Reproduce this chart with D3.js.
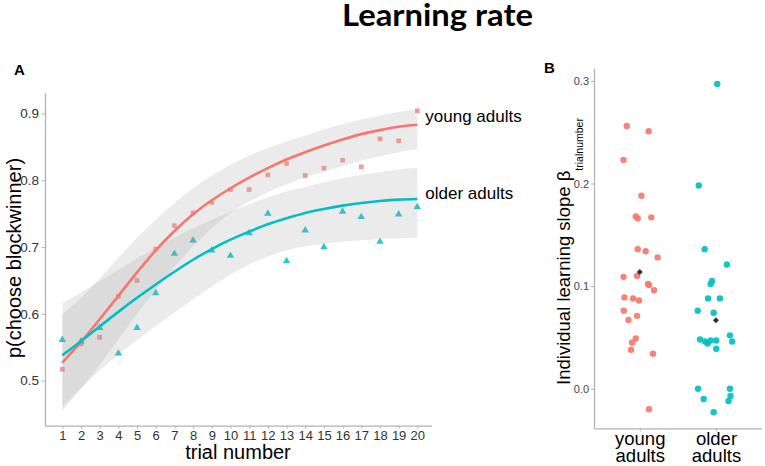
<!DOCTYPE html>
<html>
<head>
<meta charset="utf-8">
<script src="https://cdn.jsdelivr.net/npm/d3@7/dist/d3.min.js"></script>
<style>
  body { margin: 0; background: #fff; }
  text { font-family: "Liberation Sans", Arial, sans-serif; }
</style>
</head>
<body>
<svg id="chart" width="765" height="466"></svg>
<script>
// ---- panel A data ----
const trials = [1, 2, 3, 4, 5, 6, 7, 8, 9, 10, 11, 12, 13, 14, 15, 16, 17, 18, 19, 20]
const youngObs = [0.517, 0.555, 0.565, 0.626, 0.650, 0.697, 0.732, 0.751, 0.767, 0.786,
                  0.786, 0.808, 0.825, 0.807, 0.818, 0.830, 0.820, 0.862, 0.859, 0.904]
const olderObs = [0.561, 0.559, 0.579, 0.541, 0.579, 0.631, 0.690, 0.710, 0.695, 0.687,
                  0.721, 0.750, 0.679, 0.725, 0.700, 0.753, 0.745, 0.708, 0.749, 0.760]
const youngFit = [0.527, 0.558, 0.592, 0.627, 0.662, 0.695, 0.724, 0.749, 0.770, 0.788,
                  0.804, 0.818, 0.831, 0.842, 0.852, 0.861, 0.869, 0.875, 0.880, 0.883]
const olderFit = [0.538, 0.559, 0.581, 0.603, 0.624, 0.644, 0.663, 0.681, 0.697, 0.711,
                  0.723, 0.734, 0.743, 0.751, 0.757, 0.762, 0.766, 0.769, 0.771, 0.772]
const youngLow = [0.455, 0.488, 0.524, 0.562, 0.600, 0.636, 0.670, 0.701, 0.728, 0.751,
                  0.768, 0.782, 0.794, 0.804, 0.813, 0.821, 0.829, 0.836, 0.842, 0.847]
const youngHigh = [0.599, 0.624, 0.653, 0.684, 0.714, 0.741, 0.766, 0.788, 0.807, 0.823,
                   0.837, 0.848, 0.858, 0.867, 0.876, 0.884, 0.891, 0.897, 0.902, 0.907]
const olderLow = [0.461, 0.489, 0.515, 0.539, 0.561, 0.582, 0.602, 0.622, 0.641, 0.659,
                  0.674, 0.686, 0.695, 0.701, 0.705, 0.708, 0.710, 0.712, 0.713, 0.714]
const olderHigh = [0.616, 0.632, 0.649, 0.666, 0.683, 0.699, 0.714, 0.728, 0.741, 0.753,
                   0.764, 0.774, 0.783, 0.790, 0.797, 0.803, 0.808, 0.812, 0.816, 0.819]
const yTicksA = [0.5, 0.6, 0.7, 0.8, 0.9]

// ---- panel B data ----
const groups = ["young adults", "older adults"]
const youngSlopes = [0.256, 0.251, 0.223, 0.188, 0.168, 0.166, 0.167, 0.136, 0.134, 0.128,
                     0.109, 0.110, 0.102, 0.101, 0.096, 0.089, 0.088, 0.086, 0.076, 0.071,
                     0.067, 0.049, 0.045, 0.038, 0.034, -0.020]
const youngJitter = [-0.17, 0.117, -0.213, 0.022, -0.052, -0.026, 0.152, -0.026, 0.078, 0.235,
                     -0.213, -0.035, 0.109, 0.122, 0.187, -0.2, -0.087, -0.009, -0.209, -0.035,
                     -0.148, -0.052, -0.1, -0.113, 0.174, 0.122]
const olderSlopes = [0.297, 0.198, 0.136, 0.121, 0.105, 0.102, 0.088, 0.088, 0.076, 0.074,
                     0.048, 0.046, 0.044, 0.047, 0.047, 0.052, 0.046, 0.039, 0.000, -0.010,
                     0.000, -0.007, -0.012, -0.023]
const olderJitter = [0.017, -0.226, -0.148, 0.143, -0.052, -0.07, -0.104, 0.052, -0.239, -0.03,
                     -0.209, -0.143, -0.109, -0.07, 0.004, 0.183, 0.213, 0.004, -0.235, -0.161,
                     0.183, 0.191, 0.165, -0.03]
const yTicksB = [0.0, 0.1, 0.2, 0.3]

const red = "#F8766D", teal = "#00BFC4"
const axisGrey = "#b3b3b3"

const svg = d3.select("#chart")

svg.append("text")
  .attr("x", 342).attr("y", 26)
  .attr("textLength", 191).attr("lengthAdjust", "spacingAndGlyphs")
  .style("font-family", "Lato, 'Open Sans', sans-serif")
  .style("font-weight", "bold").style("font-size", "31px")
  .text("Learning rate")

// ================= panel A =================
const xA = d3.scaleLinear().domain([0.074, 20.77]).range([45, 431.7])
const yA = d3.scaleLinear().domain([0.4326, 0.931]).range([425.7, 92.7])

const gA = svg.append("g")

const pts = trials.map((t, i) => ({
  t: t, yo: youngObs[i], oo: olderObs[i],
  yf: youngFit[i], of: olderFit[i],
  yl: youngLow[i], yh: youngHigh[i], ol: olderLow[i], oh: olderHigh[i]
}))

// raw points first, ribbons sit over them
gA.selectAll(".sq").data(pts).enter().append("path")
  .attr("class", "sq")
  .attr("transform", d => `translate(${xA(d.t)},${yA(d.yo)})`)
  .attr("d", d3.symbol(d3.symbolSquare).size(22))
  .attr("fill", red).attr("opacity", 0.72)

gA.selectAll(".tri").data(pts).enter().append("path")
  .attr("class", "tri")
  .attr("transform", d => `translate(${xA(d.t)},${yA(d.oo)})`)
  .attr("d", d3.symbol(d3.symbolTriangle).size(24))
  .attr("fill", teal).attr("opacity", 0.85)

const band = (lo, hi) => d3.area()
  .x(d => xA(d.t)).y0(d => yA(d[lo])).y1(d => yA(d[hi]))
  .curve(d3.curveNatural)

gA.append("path").datum(pts).attr("d", band("yl", "yh"))
  .attr("fill", "#999999").attr("opacity", 0.2)
gA.append("path").datum(pts).attr("d", band("ol", "oh"))
  .attr("fill", "#999999").attr("opacity", 0.2)

const fitLine = key => d3.line().x(d => xA(d.t)).y(d => yA(d[key])).curve(d3.curveNatural)

gA.append("path").datum(pts).attr("d", fitLine("yf"))
  .attr("fill", "none").attr("stroke", red).attr("stroke-width", 2.6)
gA.append("path").datum(pts).attr("d", fitLine("of"))
  .attr("fill", "none").attr("stroke", teal).attr("stroke-width", 2.6)

// group labels at the end of the curves
gA.append("text").attr("x", xA(20) + 8).attr("y", yA(youngFit[19]) - 3)
  .style("font-size", "17px").text("young adults")
gA.append("text").attr("x", xA(20) + 8).attr("y", yA(olderFit[19]) - 0)
  .style("font-size", "17px").text("older adults")

const axA_y = gA.append("g").attr("transform", "translate(45,0)")
  .call(d3.axisLeft(yA).tickValues(yTicksA).tickFormat(d3.format(".1f"))
    .tickSize(3).tickSizeOuter(0).tickPadding(3))
const axA_x = gA.append("g").attr("transform", "translate(0,425.7)")
  .call(d3.axisBottom(xA).tickValues(trials).tickSize(3).tickSizeOuter(0).tickPadding(2))

;[axA_y, axA_x].forEach(ax => {
  ax.select(".domain").attr("stroke", axisGrey).attr("stroke-width", 1.3)
  ax.selectAll(".tick line").attr("stroke", axisGrey)
  ax.selectAll(".tick text").attr("fill", "#333")
    .style("font-family", "'Liberation Sans', Arial, sans-serif")
})
axA_y.selectAll(".tick text").style("font-size", "13.5px")
axA_x.selectAll(".tick text").style("font-size", "13px")

gA.append("text")
  .attr("transform", "translate(21,258) rotate(-90)")
  .attr("text-anchor", "middle").style("font-size", "20px")
  .text("p(choose blockwinner)")
gA.append("text").attr("x", 238).attr("y", 459)
  .attr("text-anchor", "middle").style("font-size", "20px")
  .text("trial number")

svg.append("text").attr("x", 14).attr("y", 75)
  .style("font-weight", "bold").style("font-size", "15px").text("A")

// ================= panel B =================
const xB = d3.scalePoint().domain(groups).range([594, 761.7]).padding(0.6)
const yB = d3.scaleLinear().domain([-0.0386, 0.3123]).range([428.3, 68.3])
const step = xB.step()

const gB = svg.append("g")

const dots = youngSlopes.map((v, i) => ({ g: groups[0], v: v, j: youngJitter[i] }))
  .concat(olderSlopes.map((v, i) => ({ g: groups[1], v: v, j: olderJitter[i] })))

gB.selectAll(".dot").data(dots).enter().append("circle")
  .attr("class", "dot")
  .attr("cx", d => xB(d.g) + d.j * step)
  .attr("cy", d => yB(d.v))
  .attr("r", 3.2)
  .attr("fill", d => d.g === groups[0] ? red : teal)
  .attr("opacity", 0.92)

const means = [
  { g: groups[0], v: d3.mean(youngSlopes) },
  { g: groups[1], v: d3.mean(olderSlopes) }
]
gB.selectAll(".mean").data(means).enter().append("path")
  .attr("class", "mean")
  .attr("transform", d => `translate(${xB(d.g)},${yB(d.v)}) rotate(45)`)
  .attr("d", d3.symbol(d3.symbolSquare).size(18))
  .attr("fill", "#333")

const axB_y = gB.append("g").attr("transform", "translate(594,0)")
  .call(d3.axisLeft(yB).tickValues(yTicksB).tickFormat(d3.format(".1f"))
    .tickSize(3).tickSizeOuter(0).tickPadding(2))
const axB_x = gB.append("g").attr("transform", "translate(0,428.3)")
  .call(d3.axisBottom(xB).tickSize(3).tickSizeOuter(0).tickPadding(2))

;[axB_y, axB_x].forEach(ax => {
  ax.select(".domain").attr("stroke", axisGrey).attr("stroke-width", 1.3)
  ax.selectAll(".tick line").attr("stroke", axisGrey)
  ax.selectAll(".tick text").style("font-family", "'Liberation Sans', Arial, sans-serif")
})
axB_y.selectAll(".tick text").attr("fill", "#444").style("font-size", "11px")

// two-line category labels
axB_x.selectAll(".tick text").each(function (d) {
  const t = d3.select(this).text("").attr("fill", "#000").style("font-size", "18.5px").attr("y", 0).attr("dy", null)
  d.split(" ").forEach((w, i) => {
    t.append("tspan").attr("x", 0).attr("y", 17 + i * 16.5).text(w)
  })
})

const yLabB = gB.append("text")
  .attr("transform", "translate(569.7,251.5) rotate(-90)")
  .attr("text-anchor", "middle").style("font-size", "18.5px")
yLabB.append("tspan").text("Individual learning slope \u03B2")
yLabB.append("tspan").attr("dy", 13).style("font-size", "10.5px").text("trialnumber")

svg.append("text").attr("x", 544).attr("y", 73)
  .style("font-weight", "bold").style("font-size", "15px").text("B")
</script>
</body>
</html>
